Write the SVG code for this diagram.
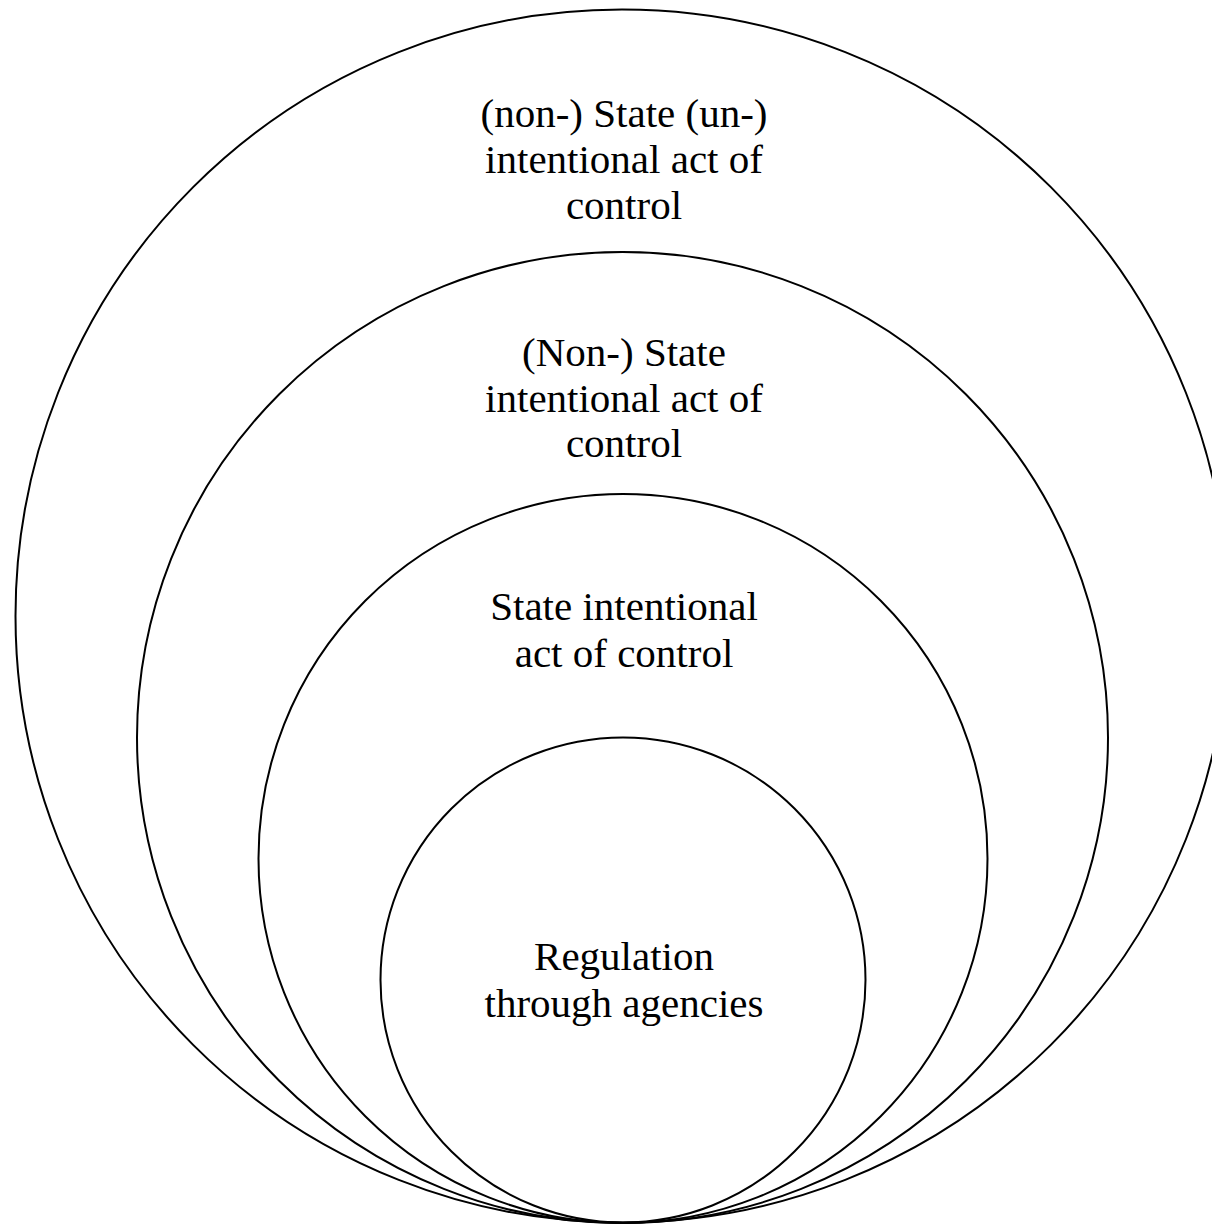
<svg xmlns="http://www.w3.org/2000/svg" width="1212" height="1224" viewBox="0 0 1212 1224">
<style>
.c{fill:none;stroke:#000;stroke-width:2}
.t{font-family:"Liberation Serif",serif;font-size:41px;fill:#000;text-anchor:middle}
</style>
<rect width="1212" height="1224" fill="#fff"/>
<g id="outer"><circle class="c" cx="622" cy="616" r="606.5"/>
<text class="t" x="624" y="127">(non-) State (un-)</text>
<text class="t" x="624" y="173">intentional act of</text>
<text class="t" x="624" y="219">control</text></g>
<g id="second"><circle class="c" cx="622.5" cy="737.5" r="485.5"/>
<text class="t" x="624" y="366">(Non-) State</text>
<text class="t" x="624" y="412">intentional act of</text>
<text class="t" x="624" y="457">control</text></g>
<g id="third"><circle class="c" cx="623" cy="858.5" r="364.5"/>
<text class="t" x="624" y="620">State intentional</text>
<text class="t" x="624" y="667">act of control</text></g>
<g id="inner"><circle class="c" cx="623" cy="980" r="242.5"/>
<text class="t" x="624" y="970">Regulation</text>
<text class="t" x="624" y="1017">through agencies</text></g>
<g id="connectors"></g>
</svg>
